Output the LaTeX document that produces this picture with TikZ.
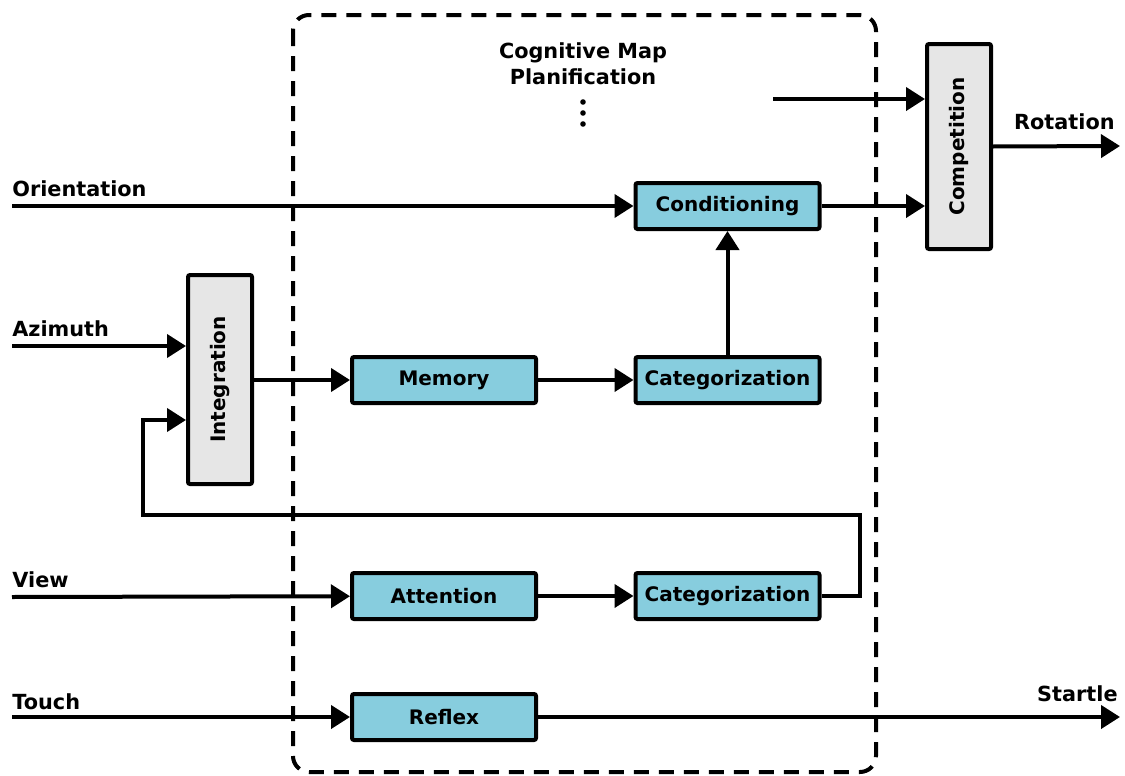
\documentclass[tikz,border=0pt]{standalone}
\usepackage{fontspec}
\setmainfont{DejaVu Sans}
\usetikzlibrary{arrows.meta,positioning}
\definecolor{boxblue}{RGB}{135,205,222}
\definecolor{boxgray}{RGB}{230,230,230}
\tikzset{
    txt/.style={font=\fontsize{10pt}{13pt}\selectfont\bfseries},
    blk/.style={txt, draw, line width=2pt, fill=boxblue, rounded corners=1pt,
        minimum width=92pt, minimum height=23pt, inner sep=0pt},
    gblk/.style={txt, draw, line width=2pt, fill=boxgray, rounded corners=1pt,
        minimum height=32pt, inner sep=0pt, rotate=90},
    arr/.style={line width=2pt, -{Triangle[length=9.5pt,width=11.5pt]}},
    lbl/.style={font=\fontsize{10.4pt}{13pt}\selectfont\bfseries, inner sep=0pt},
}

\begin{document}
\begin{tikzpicture}[x=0.5pt, y=-0.5pt]
        \useasboundingbox (0,0) rectangle (1125,776);
        \draw[line width=2pt, dash pattern=on 7.5pt off 5pt, rounded corners=8pt] (293,15) rectangle (876,772);

        \node[lbl, align=center] (cogmap) at (583,64) {Cognitive Map\\Planification};
        \foreach \y in {102,113,124} {
            \fill (583,\y) circle (1.4pt);
        }

        \node[gblk, minimum width=102.5pt] (comp) at (959,146.5) {Competition};
        \node[gblk, minimum width=104.5pt] (integ) at (220,379.5) {Integration};

        \node[blk] (cond) at (727.5,206) {Conditioning};
        \node[blk] (mem) at (444,380) {Memory};
        \node[blk] (cat1) at (727.5,380) {Categorization};
        \node[blk] (att) at (444,596) {Attention};
        \node[blk] (cat2) at (727.5,596) {Categorization};
        \node[blk] (reflex) at (444,717) {Reflex};

        \coordinate (orient) at (12,206);
        \coordinate (azim) at (12,346);
        \coordinate (view) at (12,597);
        \coordinate (touch) at (12,717);
        \coordinate (plan) at (773,99);
        \coordinate (rot) at (1120,146);
        \coordinate (startle) at (1120,717);

        \node[lbl, anchor=base west] (orientlbl) at (12,196) {Orientation};
        \node[lbl, anchor=base west] (azimlbl) at (12,336) {Azimuth};
        \node[lbl, anchor=base west] (viewlbl) at (12,587) {View};
        \node[lbl, anchor=base west] (touchlbl) at (12,709) {Touch};
        \node[lbl, anchor=base east] (rotlbl) at (1115,129) {Rotation};
        \node[lbl, anchor=base east] (startlelbl) at (1118,701) {Startle};

        \draw[arr] (orient) -- (cond);
        \draw[arr] (plan) -- (plan -| comp.north);
        \draw[arr] (cond) -- (cond -| comp.north);
        \draw[arr] (comp.south) -- (rot);
        \draw[arr] (azim) -- (azim -| integ.north);
        \draw[arr] (integ.south |- mem) -- (mem);
        \draw[arr] (mem) -- (cat1);
        \draw[arr] (cat1) -- (cond);
        \draw[arr] (view) -- (att);
        \draw[arr] (att) -- (cat2);
        \draw[arr] (cat2.east) -| (860,515) -| (143,420) -- (integ.north |- 143,420);
        \draw[arr] (touch) -- (reflex);
        \draw[arr] (reflex) -- (startle);
\end{tikzpicture}
\end{document}
